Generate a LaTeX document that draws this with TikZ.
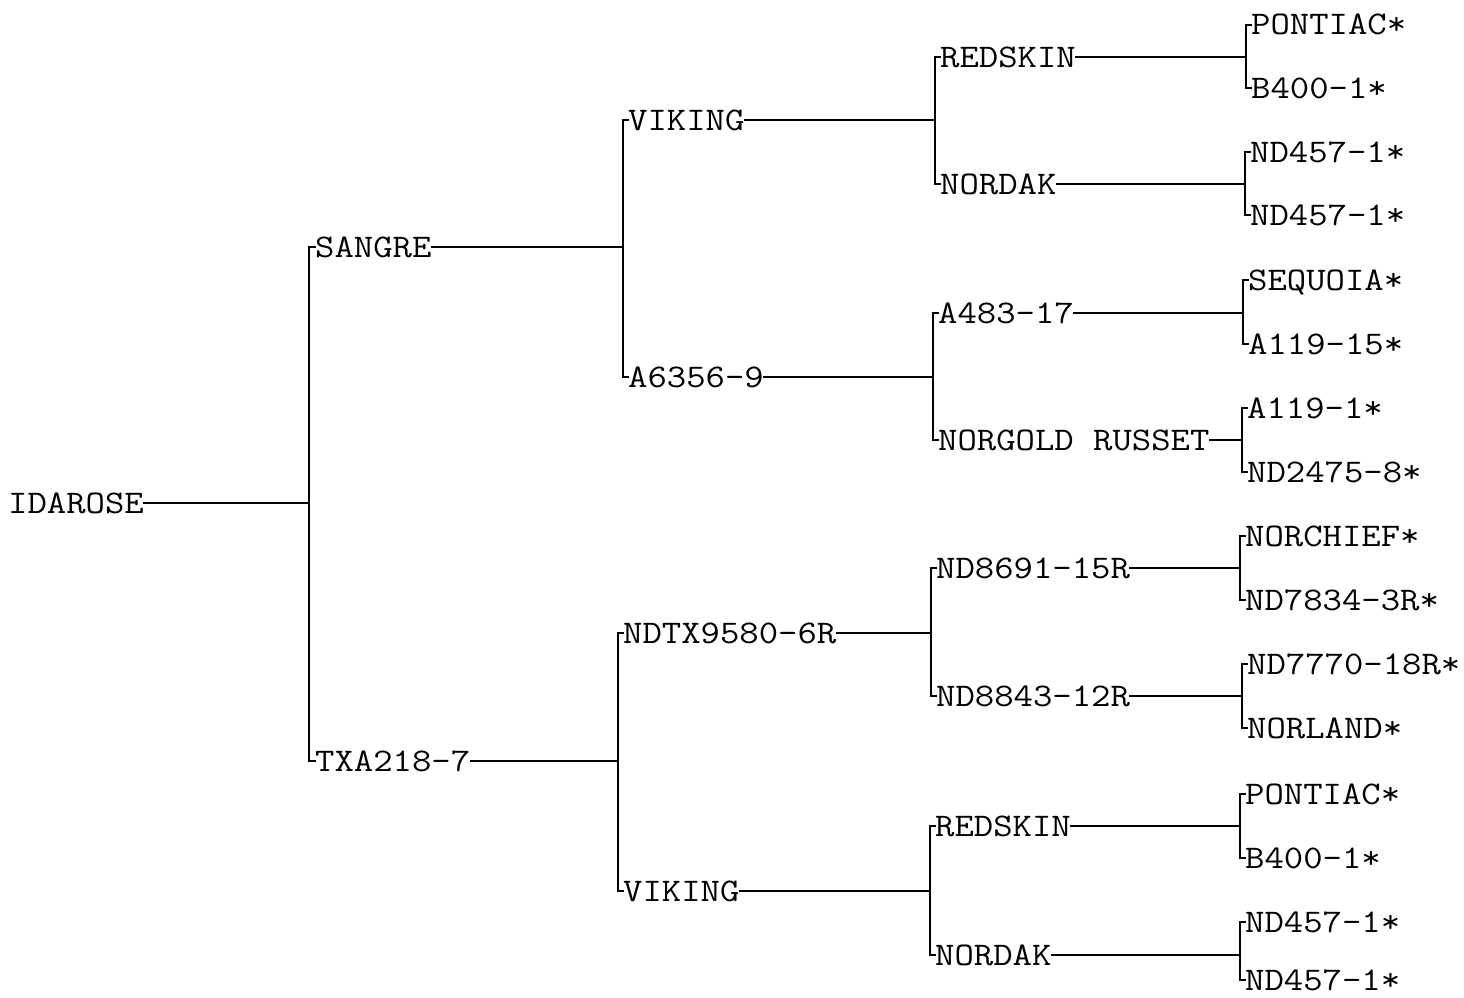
\documentclass[tikz,border=0pt]{standalone}
\newcommand{\wt}[1]{\scalebox{1.14}[1]{#1}}
\begin{document}
\begin{tikzpicture}[x=1pt,y=-1pt,
  lbl/.style={anchor=west, inner sep=0pt, font=\ttfamily\fontsize{33}{33}\selectfont, text height=20pt, text depth=0pt},
  ln/.style={line width=1.6pt, line cap=rect}]
\useasboundingbox (0,0) rectangle (1464,998);
% root
\node[lbl] (root) at (8,503) {\wt{IDAROSE}};
% level 1
\node[lbl] (s) at (315,247) {\wt{SANGRE}};
\node[lbl] (t) at (315,761) {\wt{TXA218-7}};
% level 2
\node[lbl] (sv) at (628,120) {\wt{VIKING}};
\node[lbl] (sa) at (628,377) {\wt{A6356-9}};
\node[lbl] (tn) at (623,633) {\wt{NDTX9580-6R}};
\node[lbl] (tv) at (623,891) {\wt{VIKING}};
% level 3
\node[lbl] (svr) at (940,57) {\wt{REDSKIN}};
\node[lbl] (svn) at (940,184) {\wt{NORDAK}};
\node[lbl] (saa) at (938,313) {\wt{A483-17}};
\node[lbl] (san) at (938,440) {\wt{NORGOLD RUSSET}};
\node[lbl] (tn1) at (936,568) {\wt{ND8691-15R}};
\node[lbl] (tn2) at (936,696) {\wt{ND8843-12R}};
\node[lbl] (tvr) at (935,826) {\wt{REDSKIN}};
\node[lbl] (tvn) at (935,955) {\wt{NORDAK}};
% level 4
\node[lbl] (l1) at (1251,25) {\wt{PONTIAC*}};
\node[lbl] (l2) at (1251,88) {\wt{B400-1*}};
\node[lbl] (l3) at (1250,152) {\wt{ND457-1*}};
\node[lbl] (l4) at (1250,215) {\wt{ND457-1*}};
\node[lbl] (l5) at (1248,280) {\wt{SEQUOIA*}};
\node[lbl] (l6) at (1248,344) {\wt{A119-15*}};
\node[lbl] (l7) at (1247,408) {\wt{A119-1*}};
\node[lbl] (l8) at (1247,472) {\wt{ND2475-8*}};
\node[lbl] (l9) at (1245,536) {\wt{NORCHIEF*}};
\node[lbl] (l10) at (1245,600) {\wt{ND7834-3R*}};
\node[lbl] (l11) at (1247,664) {\wt{ND7770-18R*}};
\node[lbl] (l12) at (1247,728) {\wt{NORLAND*}};
\node[lbl] (l13) at (1245,794) {\wt{PONTIAC*}};
\node[lbl] (l14) at (1245,858) {\wt{B400-1*}};
\node[lbl] (l15) at (1245,922) {\wt{ND457-1*}};
\node[lbl] (l16) at (1245,980) {\wt{ND457-1*}};
% junctions
\coordinate (j0) at (309,503);
\coordinate (js) at (623,247);
\coordinate (jt) at (618,761);
\coordinate (jsv) at (935,120);
\coordinate (jsa) at (933,377);
\coordinate (jtn) at (931,633);
\coordinate (jtv) at (930,891);
\coordinate (jsvr) at (1246,57);
\coordinate (jsvn) at (1245,184);
\coordinate (jsaa) at (1243,313);
\coordinate (jsan) at (1242,440);
\coordinate (jtn1) at (1240,568);
\coordinate (jtn2) at (1242,696);
\coordinate (jtvr) at (1240,826);
\coordinate (jtvn) at (1240,955);
% connectors
\foreach \p/\j/\a/\b in {root/j0/s/t, s/js/sv/sa, t/jt/tn/tv,
  sv/jsv/svr/svn, sa/jsa/saa/san, tn/jtn/tn1/tn2, tv/jtv/tvr/tvn,
  svr/jsvr/l1/l2, svn/jsvn/l3/l4, saa/jsaa/l5/l6, san/jsan/l7/l8,
  tn1/jtn1/l9/l10, tn2/jtn2/l11/l12, tvr/jtvr/l13/l14, tvn/jtvn/l15/l16}{
  \draw[ln] (\p.east) -- (\j);
  \draw[ln] (\a.west) -- (\a.west -| \j) -- (\b.west -| \j) -- (\b.west);
}
\end{tikzpicture}
\end{document}
